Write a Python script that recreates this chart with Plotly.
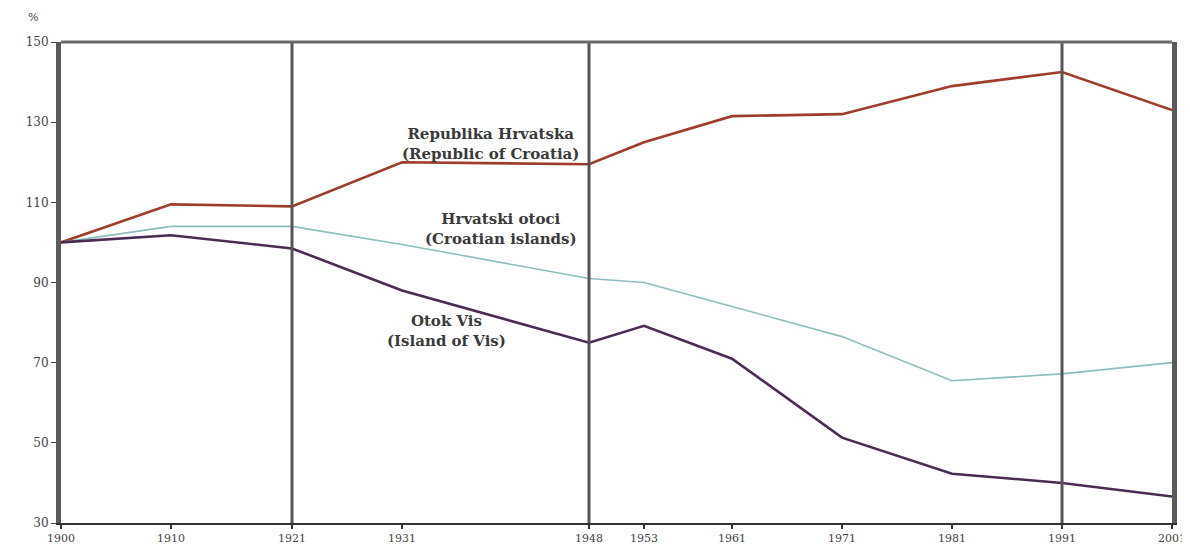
import plotly.graph_objects as go

years = [1900, 1910, 1921, 1931, 1948, 1953, 1961, 1971, 1981, 1991, 2001]
croatia = [100, 109.5, 109, 120, 119.5, 125, 131.5, 132, 139, 142.5, 133]
islands = [100, 104, 104, 99.5, 91, 90, 84, 76.5, 65.5, 67.2, 70]
vis = [100, 101.8, 98.5, 88, 75, 79.2, 71, 51.3, 42.3, 40, 36.6]
y_ticks = [30, 50, 70, 90, 110, 130, 150]
divider_years = [1921, 1948, 1991]

font_family = "DejaVu Serif"

fig = go.Figure()
fig.add_trace(go.Scatter(x=years, y=croatia, mode="lines",
                         line=dict(color="#9e3d2b", width=2.6), name="Republika Hrvatska"))
fig.add_trace(go.Scatter(x=years, y=islands, mode="lines",
                         line=dict(color="#8dbdbd", width=1.6), name="Hrvatski otoci"))
fig.add_trace(go.Scatter(x=years, y=vis, mode="lines",
                         line=dict(color="#4a2c52", width=2.6), name="Otok Vis"))

shapes = []
for yr in divider_years:
    shapes.append(dict(type="line", xref="x", yref="paper", x0=yr, x1=yr, y0=0, y1=1,
                       line=dict(color="#555555", width=3), layer="above"))
shapes.append(dict(type="line", xref="paper", yref="paper", x0=0, x1=1, y0=1, y1=1,
                   line=dict(color="#6a6a6a", width=3), layer="above"))
fig.update_layout(shapes=shapes)

label_font = dict(family=font_family, size=15, color="#3a3a3a")
annotations = [
    dict(text="<b>Republika Hrvatska<br>(Republic of Croatia)</b>", x=1939.0, y=124.5,
         xref="x", yref="y", showarrow=False, font=label_font, align="center"),
    dict(text="<b>Hrvatski otoci<br>(Croatian islands)</b>", x=1940.0, y=103.3,
         xref="x", yref="y", showarrow=False, font=label_font, align="center"),
    dict(text="<b>Otok Vis<br>(Island of Vis)</b>", x=1935.0, y=77.8,
         xref="x", yref="y", showarrow=False, font=label_font, align="center"),
    dict(text="%", x=-0.025, y=1.05, xref="paper", yref="paper", showarrow=False,
         xanchor="center", yanchor="middle",
         font=dict(family=font_family, size=11, color="#444444")),
]
fig.update_layout(annotations=annotations)

fig.update_xaxes(range=[1900, 2001], tickmode="array", tickvals=years,
                 ticktext=[str(y) for y in years], automargin=False,
                 showgrid=False, zeroline=False,
                 showline=True, linecolor="#333333", linewidth=1.5,
                 ticks="outside", ticklen=4, tickwidth=1.5, tickcolor="#333333",
                 tickfont=dict(family=font_family, size=11, color="#444444"))
fig.update_yaxes(range=[30, 150], tickmode="array", tickvals=y_ticks, automargin=False,
                 showgrid=False, zeroline=False,
                 showline=True, mirror=True, linecolor="#5a5a5a", linewidth=5,
                 ticks="outside", ticklen=5, tickwidth=1, tickcolor="#444444",
                 tickfont=dict(family=font_family, size=12, color="#444444"))

fig.update_layout(width=1182, height=541, showlegend=False,
                  plot_bgcolor="white", paper_bgcolor="white",
                  margin=dict(l=53, r=18, t=34, b=26))

fig.write_html("out.html", config={"displayModeBar": False})
